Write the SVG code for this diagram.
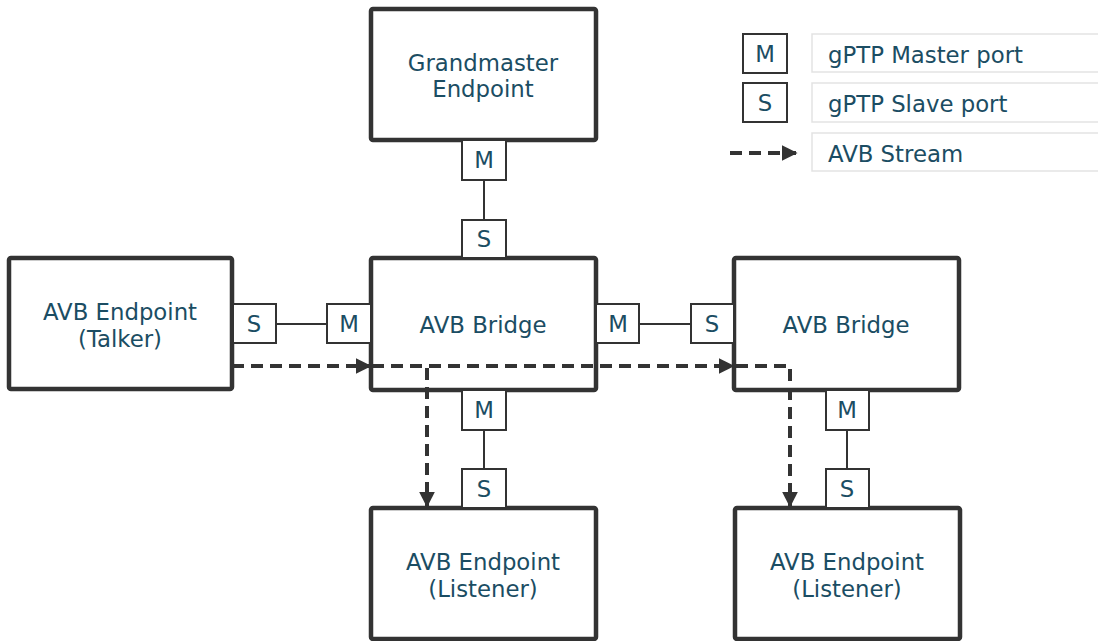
<svg xmlns="http://www.w3.org/2000/svg" width="1098" height="641" viewBox="0 0 1098 641">
  <defs>
    <marker id="arrow" viewBox="0 0 10 10" refX="9" refY="5" markerWidth="4" markerHeight="4" orient="auto" markerUnits="strokeWidth">
      <path d="M0,0 L10,5 L0,10 z" fill="#333333"/>
    </marker>
    <style>
      .node { fill: #ffffff; stroke: #333333; stroke-width: 4.5; }
      .port { fill: #ffffff; stroke: #333333; stroke-width: 2; }
      .link { fill: none; stroke: #333333; stroke-width: 2; }
      .stream { fill: none; stroke: #333333; stroke-width: 4; stroke-dasharray: 12 7; marker-end: url(#arrow); }
      .legbox { fill: #ffffff; stroke: #e3e3e3; stroke-width: 1.5; }
      text { font-family: "DejaVu Sans", Verdana, sans-serif; font-size: 22.8px; fill: #1b4d63; }
      .c { text-anchor: middle; }
    </style>
  </defs>

  <!-- connectors between ports -->
  <g id="connectors">
    <line class="link" x1="484" y1="180" x2="484" y2="220"/>
    <line class="link" x1="276" y1="324" x2="327" y2="324"/>
    <line class="link" x1="639" y1="324" x2="691" y2="324"/>
    <line class="link" x1="484" y1="430" x2="484" y2="469"/>
    <line class="link" x1="847" y1="430" x2="847" y2="469"/>
  </g>

  <!-- nodes -->
  <g id="grandmaster">
    <rect class="node" x="371" y="9" width="225" height="131" rx="2"/>
    <text class="c" x="483" y="71">Grandmaster</text>
    <text class="c" x="483" y="97">Endpoint</text>
    <rect class="port" x="462" y="140" width="44" height="40"/>
    <text class="c" x="484" y="168">M</text>
  </g>

  <g id="talker">
    <rect class="node" x="9" y="258" width="223" height="131" rx="2"/>
    <text class="c" x="120" y="320">AVB Endpoint</text>
    <text class="c" x="120" y="347">(Talker)</text>
    <rect class="port" x="233" y="304" width="43" height="39"/>
    <text class="c" x="254" y="332">S</text>
  </g>

  <g id="bridge1">
    <rect class="node" x="371" y="258" width="225" height="132" rx="2"/>
    <text class="c" x="483" y="333">AVB Bridge</text>
    <rect class="port" x="462" y="220" width="44" height="38"/>
    <text class="c" x="484" y="247">S</text>
    <rect class="port" x="327" y="304" width="44" height="39"/>
    <text class="c" x="349" y="332">M</text>
    <rect class="port" x="596" y="304" width="43" height="39"/>
    <text class="c" x="618" y="332">M</text>
    <rect class="port" x="462" y="390" width="44" height="40"/>
    <text class="c" x="484" y="418">M</text>
  </g>

  <g id="bridge2">
    <rect class="node" x="734" y="258" width="225" height="132" rx="2"/>
    <text class="c" x="846" y="333">AVB Bridge</text>
    <rect class="port" x="691" y="304" width="43" height="39"/>
    <text class="c" x="712" y="332">S</text>
    <rect class="port" x="826" y="390" width="43" height="40"/>
    <text class="c" x="847" y="418">M</text>
  </g>

  <g id="listener1">
    <rect class="node" x="371" y="508" width="225" height="131" rx="2"/>
    <text class="c" x="483" y="570">AVB Endpoint</text>
    <text class="c" x="483" y="597">(Listener)</text>
    <rect class="port" x="462" y="469" width="44" height="39"/>
    <text class="c" x="484" y="497">S</text>
  </g>

  <g id="listener2">
    <rect class="node" x="735" y="508" width="225" height="131" rx="2"/>
    <text class="c" x="847" y="570">AVB Endpoint</text>
    <text class="c" x="847" y="597">(Listener)</text>
    <rect class="port" x="826" y="469" width="43" height="39"/>
    <text class="c" x="847" y="497">S</text>
  </g>

  <!-- AVB stream paths -->
  <g id="streams">
    <path class="stream" d="M232,366 L370,366"/>
    <path class="stream" d="M372,366 L733,366"/>
    <path class="stream" d="M372,366 L427,366 L427,506"/>
    <path class="stream" d="M736,366 L790,366 L790,506"/>
  </g>

  <!-- legend -->
  <g id="legend">
    <rect class="port" x="743" y="34" width="44" height="39"/>
    <text class="c" x="765" y="62">M</text>
    <rect class="port" x="743" y="83" width="44" height="39"/>
    <text class="c" x="765" y="111">S</text>
    <path class="stream" d="M730,153 L796,153" stroke-dasharray="10 6"/>
    <rect class="legbox" x="812" y="34" width="300" height="38"/>
    <rect class="legbox" x="812" y="83" width="300" height="39"/>
    <rect class="legbox" x="812" y="133" width="300" height="38"/>
    <text x="828" y="63">gPTP Master port</text>
    <text x="828" y="112">gPTP Slave port</text>
    <text x="828" y="162">AVB Stream</text>
  </g>
</svg>
